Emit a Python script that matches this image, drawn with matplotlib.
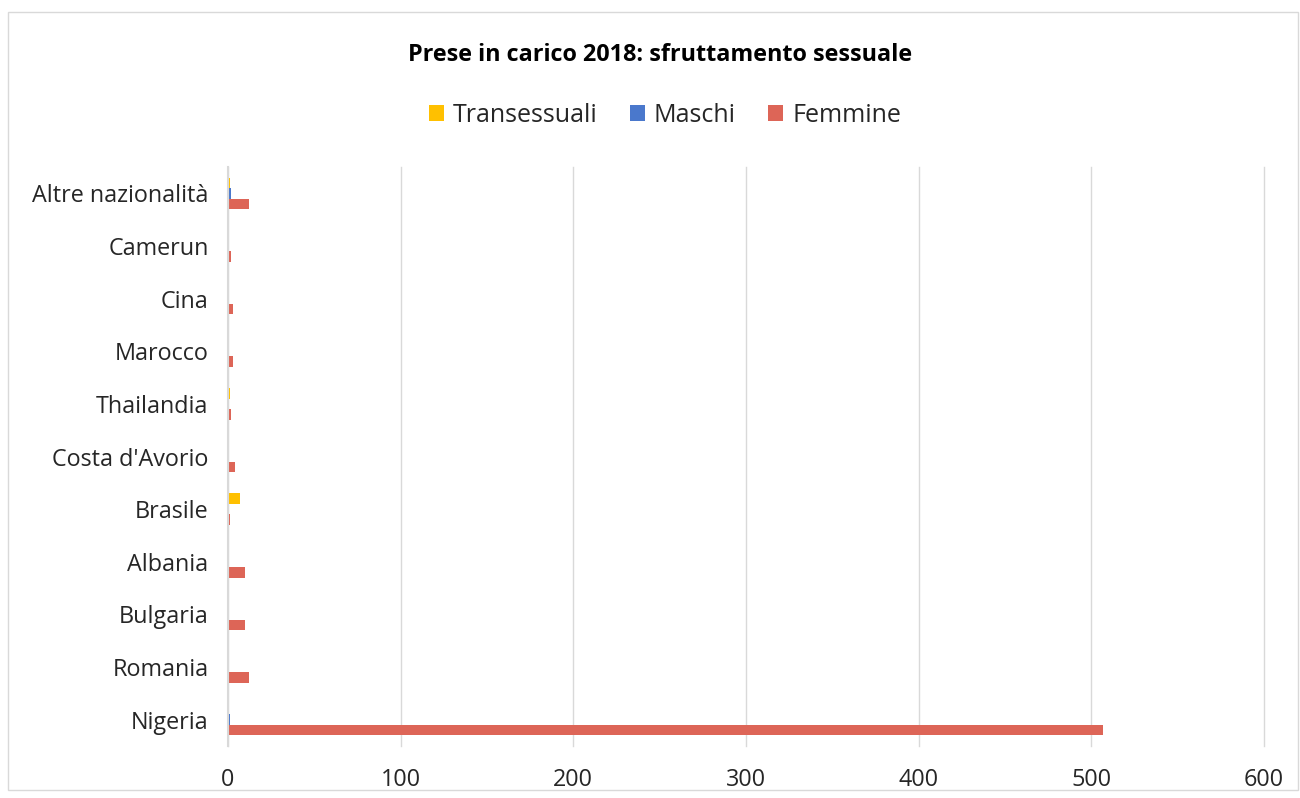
import matplotlib.pyplot as plt
import numpy as np
from matplotlib.patches import Rectangle

# categories bottom -> top, as drawn
countries = ["Nigeria", "Romania", "Bulgaria", "Albania", "Brasile", "Costa d'Avorio",
             "Thailandia", "Marocco", "Cina", "Camerun", "Altre nazionalità"]
femmine = [507, 12, 10, 10, 1, 4, 2, 3, 3, 2, 12]
maschi = [1, 0, 0, 0, 0, 0, 0, 0, 0, 0, 2]
transessuali = [0, 0, 0, 0, 7, 0, 1, 0, 0, 0, 1]
xticks = [0, 100, 200, 300, 400, 500, 600]

plt.rcParams['font.family'] = ['Open Sans', 'DejaVu Sans']

fig = plt.figure(figsize=(13, 7.98), dpi=100)
ax = fig.add_axes([228 / 1300, 1 - 746 / 798, (1264 - 228) / 1300, (746 - 167) / 798])

y = np.arange(len(countries))
h = 0.2
b_f = ax.barh(y - h, femmine, height=h, color="#DD6557", linewidth=0, label="Femmine")
b_m = ax.barh(y, maschi, height=h, color="#4A78CC", linewidth=0, label="Maschi")
b_t = ax.barh(y + h, transessuali, height=h, color="#FFC000", linewidth=0, label="Transessuali")

ax.set_xlim(0, 600)
ax.set_ylim(-0.5, len(countries) - 0.5)
ax.set_xticks(xticks)
ax.set_yticks(y)
ax.set_yticklabels(countries)
ax.tick_params(axis="both", length=0, labelsize=16.8, colors="#262626")
ax.tick_params(axis="x", pad=16)
ax.tick_params(axis="y", pad=14)
ax.grid(axis="x", color="#D9D9D9", linewidth=1)
for gl in ax.get_xgridlines():
    gl.set_clip_on(False)
ax.set_axisbelow(True)
for s in ["top", "right", "bottom"]:
    ax.spines[s].set_visible(False)
ax.spines["left"].set_color("#D9D9D9")
ax.spines["left"].set_linewidth(1.5)

fig.text(660 / 1300, 1 - 55 / 798, "Prese in carico 2018: sfruttamento sessuale",
         ha="center", va="center", fontsize=16.8, fontweight="bold", color="black")

fig.legend(handles=[b_t, b_m, b_f], labels=["Transessuali", "Maschi", "Femmine"],
           loc="center", bbox_to_anchor=(665 / 1300, 1 - 115 / 798), ncol=3, frameon=False,
           fontsize=18, handlelength=0.6, handleheight=0.6, handletextpad=0.35, columnspacing=1.3,
           labelcolor="#262626")

fig.patches.append(Rectangle((8 / 1300, 1 - 790 / 798), 1290 / 1300, 778 / 798,
                             transform=fig.transFigure, fill=False, edgecolor="#D9D9D9",
                             linewidth=1))

fig.savefig("out.png", dpi=100)
